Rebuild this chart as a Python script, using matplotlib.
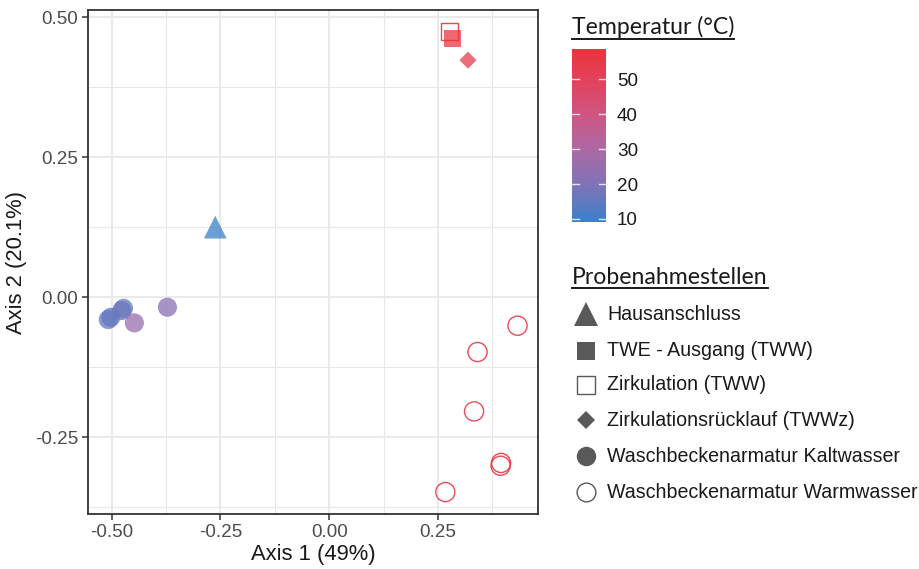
import numpy as np
import matplotlib
matplotlib.use("Agg")
import matplotlib.pyplot as plt
from matplotlib.colors import LinearSegmentedColormap, Normalize
from matplotlib.lines import Line2D
import matplotlib.colorbar as mcolorbar

# --- data --------------------------------------------------------------------
groups = ["Hausanschluss", "TWE - Ausgang (TWW)", "Zirkulation (TWW)",
          "Zirkulationsrücklauf (TWWz)", "Waschbeckenarmatur Kaltwasser",
          "Waschbeckenarmatur Warmwasser"]

axis1 = [-0.262,
         0.284,
         0.277,
         0.319,
         -0.508, -0.502, -0.473, -0.477, -0.448, -0.372,
         0.433, 0.341, 0.333, 0.395, 0.394, 0.267]
axis2 = [0.125,
         0.461,
         0.474,
         0.423,
         -0.040, -0.036, -0.020, -0.024, -0.046, -0.018,
         -0.051, -0.098, -0.204, -0.296, -0.301, -0.348]
temp = [9.1,
        57.0,
        58.7,
        54.0,
        15.0, 15.5, 16.0, 16.5, 25.0, 22.0,
        56.0, 57.0, 55.0, 58.0, 57.0, 56.0]
group = [0, 1, 2, 3, 4, 4, 4, 4, 4, 4, 5, 5, 5, 5, 5, 5]

temp_ticks = [10, 20, 30, 40, 50]
x_ticks = [-0.50, -0.25, 0.00, 0.25]
y_ticks = [-0.25, 0.00, 0.25, 0.50]

# --- style -------------------------------------------------------------------
TICK_GREY = '#4d4d4d'
GRID = '#e8e8e8'
BORDER = '#333333'
LEG_GREY = '#595959'

cmap = LinearSegmentedColormap.from_list(
    'temp', ['#3a80c8', '#7b74b9', '#a96aa6', '#cb5886', '#e14460', '#e8343c'])
norm = Normalize(vmin=min(temp), vmax=max(temp))

# marker, filled?, size (pt^2)
styles = {
    0: ('^', True, 270),
    1: ('s', True, 150),
    2: ('s', False, 150),
    3: ('D', True, 75),
    4: ('o', True, 190),
    5: ('o', False, 190),
}

fig = plt.figure(figsize=(9.19, 5.69), dpi=100)
ax = fig.add_axes([0.0958, 0.0958, 0.4896, 0.8866])

axis1 = np.array(axis1)
axis2 = np.array(axis2)
temp = np.array(temp)
group = np.array(group)

for g, (mk, filled, s) in styles.items():
    m = group == g
    cols = cmap(norm(temp[m]))
    if filled:
        ax.scatter(axis1[m], axis2[m], c=cols, marker=mk, s=s, alpha=0.75,
                   edgecolors='none', zorder=3)
    else:
        ax.scatter(axis1[m], axis2[m], facecolors='none', edgecolors=cols,
                   marker=mk, s=s, linewidths=1.0, alpha=0.9, zorder=3)

ax.set_xticks(x_ticks)
ax.set_xticklabels([f'{v:.2f}' for v in x_ticks])
ax.set_yticks(y_ticks)
ax.set_yticklabels([f'{v:.2f}' for v in y_ticks])
ax.set_xticks(np.arange(-0.375, 0.5, 0.25), minor=True)
ax.set_yticks(np.arange(-0.375, 0.5, 0.25), minor=True)
ax.set_xlim(-0.5545, 0.480)
ax.set_ylim(-0.388, 0.5125)
ax.grid(True, which='major', color=GRID, linewidth=1.3, zorder=0)
ax.grid(True, which='minor', color=GRID, linewidth=0.8, zorder=0)
ax.set_axisbelow(True)
ax.tick_params(which='major', direction='out', length=4, width=1.1,
               color=BORDER, labelsize=13.6, labelcolor=TICK_GREY, pad=3)
ax.tick_params(which='minor', length=0)
for lab in ax.get_xticklabels() + ax.get_yticklabels():
    lab.set_family('Liberation Sans')
for sp in ax.spines.values():
    sp.set_color(BORDER)
    sp.set_linewidth(1.3)

ax.set_xlabel('Axis 1 (49%)', fontsize=15.8, family='Liberation Sans',
              color='#1a1a1a', labelpad=2)
ax.set_ylabel('Axis 2 (20.1%)', fontsize=15.8, family='Liberation Sans',
              color='#1a1a1a', labelpad=6)

# --- colour bar --------------------------------------------------------------
cax = fig.add_axes([0.6224, 0.6098, 0.037, 0.304])
cb = mcolorbar.ColorbarBase(cax, cmap=cmap, norm=norm, orientation='vertical')
cb.outline.set_visible(False)
cb.set_ticks(temp_ticks)
cax.tick_params(length=0, labelsize=13.6, labelcolor='#1a1a1a', pad=8)
for lab in cax.get_yticklabels():
    lab.set_family('Liberation Sans')
for t in temp_ticks:
    cax.plot([0, 0.2], [t, t], color='white', lw=1, alpha=0.8,
             transform=cax.get_yaxis_transform())
    cax.plot([0.8, 1.0], [t, t], color='white', lw=1, alpha=0.8,
             transform=cax.get_yaxis_transform())

fig.canvas.draw()
renderer = fig.canvas.get_renderer()


def underlined_title(x, y, s):
    t = fig.text(x, y, s, fontsize=16.6, family='Lato', color='#1a1a1a',
                 va='baseline', ha='left')
    bb = t.get_window_extent(renderer).transformed(fig.transFigure.inverted())
    yl = y - 4.5 / 569
    fig.add_artist(Line2D([bb.x0, bb.x1], [yl, yl], transform=fig.transFigure,
                          color='#1a1a1a', lw=1.4))


underlined_title(572 / 919, 1 - 34 / 569, 'Temperatur (°C)')
underlined_title(572 / 919, 1 - 284 / 569, 'Probenahmestellen')

# --- shape legend ------------------------------------------------------------
rows_y = [314, 351, 385, 420, 456, 492]
leg_styles = [('^', True, 17), ('s', True, 13.5), ('s', False, 13),
              ('D', True, 9.5), ('o', True, 14), ('o', False, 13.5)]
for name, yy, (mk, filled, ms) in zip(groups, rows_y, leg_styles):
    yf = 1 - yy / 569
    fig.add_artist(Line2D([586 / 919], [yf], transform=fig.transFigure,
                          marker=mk, markersize=ms, linestyle='none',
                          markerfacecolor=LEG_GREY if filled else 'white',
                          markeredgecolor=LEG_GREY, markeredgewidth=1.0 if not filled else 0))
    fig.text(607 / 919, yf, name, fontsize=14.1, family='Liberation Sans',
             color='#1a1a1a', va='center', ha='left')

fig.savefig('out.png', dpi=100)
